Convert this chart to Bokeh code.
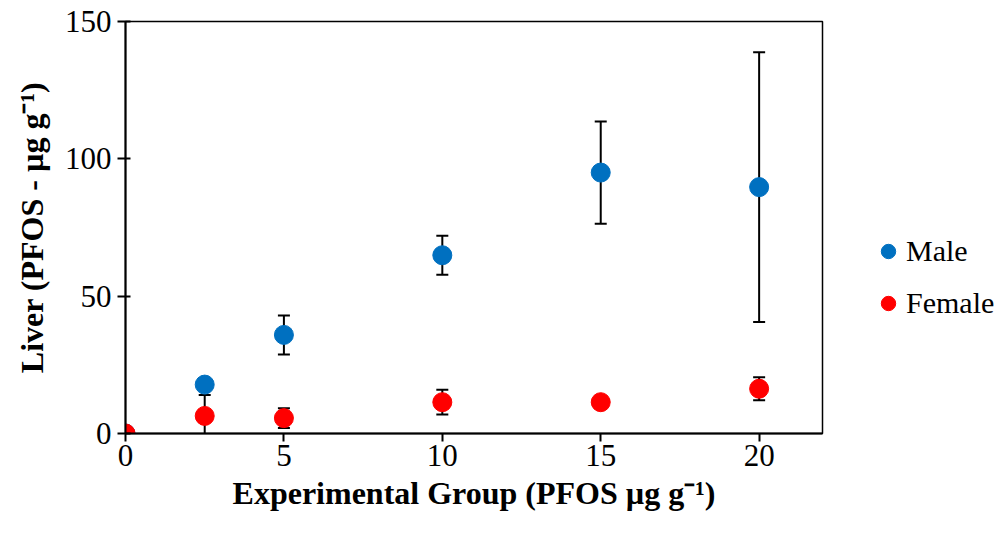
from bokeh.plotting import figure
from bokeh.layouts import row
from bokeh.models import Whisker, ColumnDataSource, Legend, LegendItem, FixedTicker, TeeHead, Range1d
from bokeh.embed import file_html
from bokeh.resources import INLINE

# data
groups = [0, 2.5, 5, 10, 15, 20]
male = [0, 17.8, 35.9, 64.9, 95.0, 89.7]
male_err = [0, 2.0, 7.1, 7.1, 18.6, 49.1]
female = [0, 6.4, 5.6, 11.4, 11.4, 16.3]
female_err = [0, 7.6, 3.6, 4.5, 0.8, 4.2]
x_ticks = [0, 5, 10, 15, 20]
y_ticks = [0, 50, 100, 150]
series_names = ["Male", "Female"]
series_colors = ["#0070C0", "#FF0000"]

FONT = "Liberation Serif"

p = figure(width=826, height=529, output_backend="svg", toolbar_location=None,
           x_range=Range1d(0, 22), y_range=Range1d(0, 150),
           min_border_left=125, min_border_right=4, min_border_top=21, min_border_bottom=96)
p.grid.visible = False
p.outline_line_color = "black"
p.outline_line_width = 1.5
p.background_fill_color = "white"
p.border_fill_color = "white"

for ax in (p.xaxis[0], p.yaxis[0]):
    ax.axis_line_width = 2
    ax.axis_line_color = "black"
    ax.major_tick_line_width = 2
    ax.major_tick_line_color = "black"
    ax.minor_tick_line_color = None
    ax.major_label_text_font = FONT
    ax.major_label_text_font_size = "31px"
    ax.major_label_text_color = "black"
    ax.axis_label_text_font = FONT
    ax.axis_label_text_font_size = "32px"
    ax.axis_label_text_font_style = "bold"
    ax.axis_label_text_color = "black"

p.xaxis.ticker = FixedTicker(ticks=x_ticks)
p.yaxis.ticker = FixedTicker(ticks=y_ticks)
p.xaxis.major_tick_out = 8
p.xaxis.major_tick_in = 0
p.yaxis.major_tick_out = 8
p.yaxis.major_tick_in = 5
p.xaxis.major_label_standoff = 3
p.yaxis.major_label_standoff = 6
p.xaxis.axis_label = "Experimental Group (PFOS µg g⁻¹)"
p.yaxis.axis_label = "Liver (PFOS - µg g⁻¹)"
p.xaxis.axis_label_standoff = 6
p.yaxis.axis_label_standoff = 12

src_m = ColumnDataSource(dict(x=groups, y=male,
                              lo=[a - b for a, b in zip(male, male_err)],
                              hi=[a + b for a, b in zip(male, male_err)]))
src_f = ColumnDataSource(dict(x=groups, y=female,
                              lo=[a - b for a, b in zip(female, female_err)],
                              hi=[a + b for a, b in zip(female, female_err)]))

for src in (src_f, src_m):
    w = Whisker(source=src, base="x", lower="lo", upper="hi",
                line_color="black", line_width=2,
                lower_head=TeeHead(size=12, line_width=2, line_color="black"),
                upper_head=TeeHead(size=12, line_width=2, line_color="black"))
    p.add_layout(w)

p.scatter("x", "y", source=src_m, size=19, color=series_colors[0], line_color=series_colors[0])
p.scatter("x", "y", source=src_f, size=19, color=series_colors[1], line_color=series_colors[1])

# legend panel
lg = figure(width=174, height=529, output_backend="svg", toolbar_location=None,
            x_range=Range1d(0, 1), y_range=Range1d(0, 1),
            x_axis_location=None, y_axis_location=None,
            min_border_left=0, min_border_right=0, min_border_top=0, min_border_bottom=0)
lg.grid.visible = False
lg.outline_line_color = None
lg.background_fill_color = "white"
lg.border_fill_color = "white"
items = []
for name, col in zip(series_names, series_colors):
    r = lg.scatter(x=[float("nan")], y=[float("nan")], size=19, color=col, line_color=col)
    items.append(LegendItem(label=name, renderers=[r]))

legend = Legend(items=items, location=(44, 110), orientation="vertical",
                label_text_font=FONT, label_text_font_size="30px",
                label_text_color="black",
                glyph_width=36, glyph_height=40, label_height=40,
                label_standoff=0, spacing=12, padding=0, margin=0,
                border_line_color=None, background_fill_alpha=0)
lg.add_layout(legend, "center")

layout = row(p, lg, spacing=0)
open("out.html", "w").write(file_html(layout, INLINE))
